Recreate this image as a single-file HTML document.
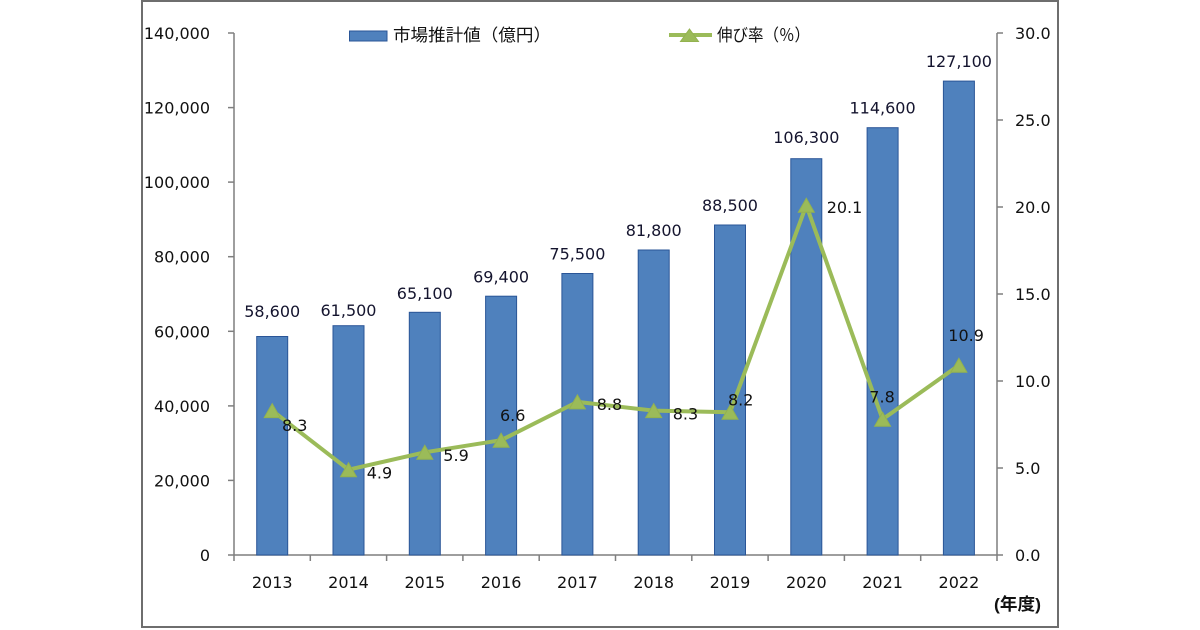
<!DOCTYPE html>
<html>
<head>
<meta charset="utf-8">
<style>
  html, body { margin: 0; padding: 0; background: #ffffff; }
  svg { display: block; }
  .num { font-family: "DejaVu Sans", "Liberation Sans", sans-serif; font-size: 16px; fill: #111111; }
  .bl { fill: #14142e; }
  .jp { font-family: "Liberation Sans", "Noto Sans CJK JP", sans-serif; font-size: 17px; fill: #111111; }
</style>
</head>
<body>
<svg width="1200" height="630" viewBox="0 0 1200 630" xmlns="http://www.w3.org/2000/svg">
  <rect x="0" y="0" width="1200" height="630" fill="#ffffff"/>
  <!-- frame -->
  <rect x="142" y="1" width="916" height="626" fill="none" stroke="#6e6e6e" stroke-width="2"/>

  <!-- axes -->
  <g stroke="#7f7f7f" stroke-width="1.5" fill="none">
    <line x1="234" y1="33" x2="234" y2="555"/>
    <line x1="234" y1="555" x2="997" y2="555"/>
    <line x1="997" y1="33" x2="997" y2="561"/>
    <line x1="228" y1="33" x2="234" y2="33"/>
    <line x1="228" y1="107.6" x2="234" y2="107.6"/>
    <line x1="228" y1="182.1" x2="234" y2="182.1"/>
    <line x1="228" y1="256.7" x2="234" y2="256.7"/>
    <line x1="228" y1="331.3" x2="234" y2="331.3"/>
    <line x1="228" y1="405.9" x2="234" y2="405.9"/>
    <line x1="228" y1="480.4" x2="234" y2="480.4"/>
    <line x1="228" y1="555" x2="234" y2="555"/>
    <line x1="997" y1="33" x2="1003" y2="33"/>
    <line x1="997" y1="120" x2="1003" y2="120"/>
    <line x1="997" y1="207" x2="1003" y2="207"/>
    <line x1="997" y1="294" x2="1003" y2="294"/>
    <line x1="997" y1="381" x2="1003" y2="381"/>
    <line x1="997" y1="468" x2="1003" y2="468"/>
    <line x1="997" y1="555" x2="1003" y2="555"/>
    <line x1="234" y1="555" x2="234" y2="561"/>
    <line x1="310.3" y1="555" x2="310.3" y2="561"/>
    <line x1="386.6" y1="555" x2="386.6" y2="561"/>
    <line x1="462.9" y1="555" x2="462.9" y2="561"/>
    <line x1="539.2" y1="555" x2="539.2" y2="561"/>
    <line x1="615.5" y1="555" x2="615.5" y2="561"/>
    <line x1="691.8" y1="555" x2="691.8" y2="561"/>
    <line x1="768.1" y1="555" x2="768.1" y2="561"/>
    <line x1="844.4" y1="555" x2="844.4" y2="561"/>
    <line x1="920.7" y1="555" x2="920.7" y2="561"/>
  </g>

  <g class="num" text-anchor="end">
    <text x="210" y="39">140,000</text>
    <text x="210" y="113.6">120,000</text>
    <text x="210" y="188.1">100,000</text>
    <text x="210" y="262.7">80,000</text>
    <text x="210" y="337.3">60,000</text>
    <text x="210" y="411.9">40,000</text>
    <text x="210" y="486.4">20,000</text>
    <text x="210" y="561">0</text>
  </g>
  <g class="num" text-anchor="start">
    <text x="1015" y="39">30.0</text>
    <text x="1015" y="126">25.0</text>
    <text x="1015" y="213">20.0</text>
    <text x="1015" y="300">15.0</text>
    <text x="1015" y="387">10.0</text>
    <text x="1015" y="474">5.0</text>
    <text x="1015" y="561">0.0</text>
  </g>
  <g class="num" text-anchor="middle">
    <text x="272.2" y="588">2013</text>
    <text x="348.5" y="588">2014</text>
    <text x="424.8" y="588">2015</text>
    <text x="501.1" y="588">2016</text>
    <text x="577.4" y="588">2017</text>
    <text x="653.7" y="588">2018</text>
    <text x="730" y="588">2019</text>
    <text x="806.3" y="588">2020</text>
    <text x="882.6" y="588">2021</text>
    <text x="958.9" y="588">2022</text>
  </g>
  <text class="jp" x="994" y="610" font-size="16" font-weight="bold" textLength="47" lengthAdjust="spacingAndGlyphs">(年度)</text>

  <g fill="#4f81bd" stroke="#2a5597" stroke-width="1">
    <rect x="256.7" y="336.5" width="31" height="218.5"/>
    <rect x="333" y="325.7" width="31" height="229.3"/>
    <rect x="409.3" y="312.3" width="31" height="242.7"/>
    <rect x="485.6" y="296.2" width="31" height="258.8"/>
    <rect x="561.9" y="273.5" width="31" height="281.5"/>
    <rect x="638.2" y="250" width="31" height="305"/>
    <rect x="714.5" y="225" width="31" height="330"/>
    <rect x="790.8" y="158.7" width="31" height="396.3"/>
    <rect x="867.1" y="127.7" width="31" height="427.3"/>
    <rect x="943.4" y="81.1" width="31" height="473.9"/>
  </g>

  <g class="num bl" text-anchor="middle">
    <text x="272.2" y="317">58,600</text>
    <text x="348.5" y="316">61,500</text>
    <text x="424.8" y="299">65,100</text>
    <text x="501.1" y="282.7">69,400</text>
    <text x="577.4" y="259.3">75,500</text>
    <text x="653.7" y="236">81,800</text>
    <text x="730" y="211">88,500</text>
    <text x="806.3" y="143">106,300</text>
    <text x="882.6" y="113.5">114,600</text>
    <text x="958.9" y="67">127,100</text>
  </g>

  <polyline fill="none" stroke="#9bbb59" stroke-width="4" stroke-linejoin="round"
    points="272.2,410.6 348.5,469.7 424.8,452.3 501.1,440.2 577.4,401.9 653.7,410.6 730,412.3 806.3,205.3 882.6,419.3 958.9,365.3"/>
  <g fill="#9bbb59" stroke="#93b24f" stroke-width="1">
    <polygon points="272.2,403.6 280.2,417.6 264.2,417.6"/>
    <polygon points="348.5,462.7 356.5,476.7 340.5,476.7"/>
    <polygon points="424.8,445.3 432.8,459.3 416.8,459.3"/>
    <polygon points="501.1,433.2 509.1,447.2 493.1,447.2"/>
    <polygon points="577.4,394.9 585.4,408.9 569.4,408.9"/>
    <polygon points="653.7,403.6 661.7,417.6 645.7,417.6"/>
    <polygon points="730,405.3 738,419.3 722,419.3"/>
    <polygon points="806.3,198.3 814.3,212.3 798.3,212.3"/>
    <polygon points="882.6,412.3 890.6,426.3 874.6,426.3"/>
    <polygon points="958.9,358.3 966.9,372.3 950.9,372.3"/>
  </g>

  <g class="num" text-anchor="start">
    <text x="282" y="431">8.3</text>
    <text x="366.7" y="478.5">4.9</text>
    <text x="443.3" y="461">5.9</text>
    <text x="500" y="421">6.6</text>
    <text x="596.7" y="410">8.8</text>
    <text x="672.7" y="419.3">8.3</text>
    <text x="728" y="405.3">8.2</text>
    <text x="826.7" y="213">20.1</text>
    <text x="869.3" y="402.3">7.8</text>
    <text x="948.3" y="341">10.9</text>
  </g>

  <rect x="349.5" y="31" width="37.5" height="10" fill="#4f81bd" stroke="#2a5597" stroke-width="1"/>
  <text class="jp" x="393" y="41" textLength="158" lengthAdjust="spacingAndGlyphs">市場推計値（億円）</text>
  <line x1="669" y1="35" x2="712" y2="35" stroke="#9bbb59" stroke-width="4"/>
  <polygon points="689.5,29 698.5,41.5 680.5,41.5" fill="#9bbb59" stroke="#93b24f" stroke-width="1"/>
  <text class="jp" x="717" y="41" textLength="93" lengthAdjust="spacingAndGlyphs">伸び率（％）</text>
</svg>
</body>
</html>
